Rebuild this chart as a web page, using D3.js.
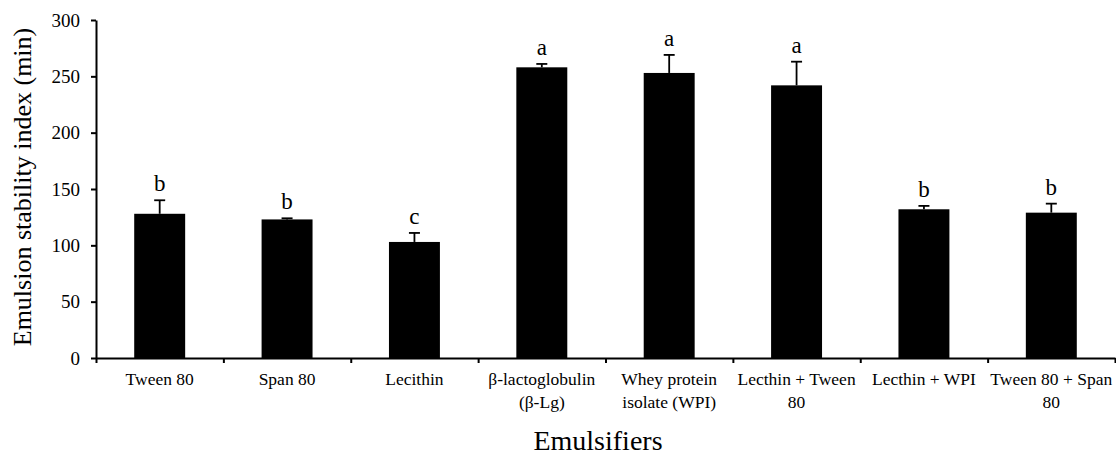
<!DOCTYPE html>
<html>
<head>
<meta charset="utf-8">
<script src="https://cdn.jsdelivr.net/npm/d3@7"></script>
<style>
  html, body { margin: 0; padding: 0; background: #fff; }
  svg { display: block; }
  svg text { font-family: "Liberation Serif", Tinos, "Times New Roman", "DejaVu Serif", serif !important; fill: #000; }
</style>
</head>
<body>
<svg id="chart" width="1116" height="457"></svg>
<script>
const categories = ["Tween 80", "Span 80", "Lecithin", "β-lactoglobulin (β-Lg)", "Whey protein isolate (WPI)", "Lecthin + Tween 80", "Lecthin + WPI", "Tween 80 + Span 80"];
const values = [128, 123, 103, 258, 253, 242, 132, 129];
const errors = [12, 1, 8, 3, 16, 21, 3, 8];
const letters = ["b", "b", "c", "a", "a", "a", "b", "b"];
const yTicks = [0, 50, 100, 150, 200, 250, 300];
const xTitle = "Emulsifiers";
const yTitle = "Emulsion stability index (min)";

const FONT = '"Liberation Serif", Tinos, "Times New Roman", serif';
const data = categories.map((c, i) => ({ c, v: values[i], e: errors[i], l: letters[i] }));

const svg = d3.select("#chart").attr("font-family", FONT);
const mLeft = 96, mRight = 1115, mTop = 20, mBottom = 358;

const x = d3.scaleBand().domain(categories).range([mLeft, mRight]).paddingInner(0.6).paddingOuter(0.3);
const xEdge = d3.scaleLinear().domain([0, categories.length]).range([mLeft, mRight]);
const y = d3.scaleLinear().domain([0, 300]).range([mBottom, mTop]);

// bars
svg.append("g").selectAll("rect").data(data).join("rect")
  .attr("x", d => x(d.c)).attr("width", x.bandwidth())
  .attr("y", d => y(d.v)).attr("height", d => y(0) - y(d.v))
  .attr("fill", "#000");

// error bars
const eg = svg.append("g").attr("stroke", "#000").attr("stroke-width", 1.8);
eg.selectAll("line.v").data(data).join("line").attr("class", "v")
  .attr("x1", d => x(d.c) + x.bandwidth() / 2).attr("x2", d => x(d.c) + x.bandwidth() / 2)
  .attr("y1", d => y(d.v)).attr("y2", d => y(d.v + d.e));
eg.selectAll("line.cap").data(data).join("line").attr("class", "cap")
  .attr("x1", d => x(d.c) + x.bandwidth() / 2 - 5.5).attr("x2", d => x(d.c) + x.bandwidth() / 2 + 5.5)
  .attr("y1", d => y(d.v + d.e)).attr("y2", d => y(d.v + d.e));

// significance letters
svg.append("g").selectAll("text").data(data).join("text")
  .attr("x", d => x(d.c) + x.bandwidth() / 2)
  .attr("y", d => y(d.v + d.e) - 9)
  .attr("text-anchor", "middle").attr("font-family", FONT).style("font-size", "23px")
  .text(d => d.l);

// y axis
const ya = svg.append("g").attr("transform", `translate(${mLeft},0)`)
  .call(d3.axisLeft(y).tickValues(yTicks).tickSize(5).tickPadding(11).tickSizeOuter(0))
  .attr("font-family", FONT);
ya.select(".domain").attr("stroke", "#000").attr("stroke-width", 2);
ya.selectAll(".tick line").attr("stroke", "#000").attr("stroke-width", 2);
ya.selectAll(".tick text").attr("font-family", FONT).style("font-size", "19px").attr("fill", "#000");

// x axis (ticks at category boundaries)
const xa = svg.append("g").attr("transform", `translate(0,${mBottom})`)
  .call(d3.axisBottom(xEdge).tickValues(d3.range(categories.length + 1)).tickFormat("").tickSize(5).tickSizeOuter(0));
xa.select(".domain").attr("stroke", "#000").attr("stroke-width", 2);
xa.selectAll(".tick line").attr("stroke", "#000").attr("stroke-width", 2);

// x category labels, wrapped
const lg = svg.append("g").attr("font-family", FONT);
categories.forEach(c => {
  const cx = x(c) + x.bandwidth() / 2;
  const t = lg.append("text").attr("text-anchor", "middle").style("font-size", "17.5px");
  const words = c.split(" ");
  let lines = [], cur = [];
  const probe = lg.append("text").style("font-size", "17.5px");
  words.forEach(w => {
    const test = cur.concat([w]).join(" ");
    probe.text(test);
    if (cur.length && probe.node().getComputedTextLength() > x.step() - 2) {
      lines.push(cur.join(" ")); cur = [w];
    } else cur.push(w);
  });
  lines.push(cur.join(" "));
  probe.remove();
  lines.forEach((ln, i) => t.append("tspan").attr("x", cx).attr("y", 385 + i * 23).text(ln));
});

// axis titles
svg.append("text").attr("x", 598).attr("y", 450).attr("text-anchor", "middle")
  .style("font-size", "28px").text(xTitle);
svg.append("text").attr("transform", `translate(31,187) rotate(-90)`).attr("text-anchor", "middle")
  .style("font-size", "26px").text(yTitle);
</script>
</body>
</html>
